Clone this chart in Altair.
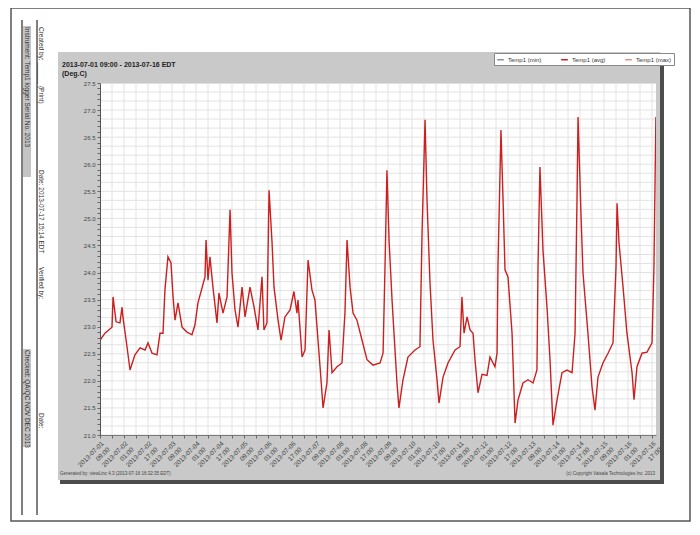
import datetime as dt
import altair as alt
import pandas as pd

# ---------------- data ----------------
# elapsed hours since 2013-07-01 09:00 and temperature (Deg.C)
hours = [0, 3.3, 8, 8.7, 10.7, 13.3, 14.7, 15.3, 18, 20, 23.3, 26.7, 30, 32, 34.7, 38, 40, 42,
         43.3, 45.3, 47.3, 48.7, 50, 52, 54.7, 58, 61.3, 63.3, 65.3, 70, 70.7, 72, 73.3, 75.3,
         78, 79.3, 82, 84.7, 86.7, 88, 90, 92, 94.7, 96.7, 100, 102.7, 105.3, 108, 109.3, 111.3,
         112.7, 114.7, 116, 118.7, 120.7, 123.3, 126.7, 129.3, 131.3, 132, 134.7, 136.7, 138.7,
         141.3, 143.3, 146.7, 148.7, 151.3, 152.7, 154.7, 158, 161.3, 163.3, 164.7, 166.7, 168.7,
         171.3, 174.7, 178, 182, 186.7, 188.7, 190, 191.3, 192.7, 194.7, 196, 198, 199.3, 202,
         205.3, 210, 213.3, 214.7, 216.7, 218, 220, 222, 224.7, 226, 228.7, 232, 236.7, 240,
         241.3, 242.7, 244.7, 246.7, 248.7, 250, 252, 254.7, 258, 260, 263.3, 264.7, 265.3,
         267.3, 268.7, 270, 272, 274.7, 276.7, 278.7, 282, 285.3, 288.7, 291.3, 292, 293.3,
         295.3, 298, 300, 302, 304.7, 308, 311.3, 314.7, 316.7, 318, 318.7, 320.7, 322, 325.3,
         328, 330, 332, 335.3, 338.7, 342, 344, 344.7, 346, 348.7, 351.3, 354.7, 356, 358,
         361.3, 364.7, 368, 369.3, 370.6]
temps = [22.75, 22.88, 22.99, 23.55, 23.09, 23.07, 23.36, 23.18, 22.63, 22.20, 22.48, 22.61,
         22.57, 22.70, 22.51, 22.48, 22.88, 22.88, 23.68, 24.29, 24.18, 23.55, 23.12, 23.44,
         22.99, 22.90, 22.85, 23.03, 23.44, 23.92, 24.60, 23.86, 24.29, 23.73, 23.07, 23.62,
         23.25, 23.55, 25.16, 23.99, 23.31, 22.99, 23.73, 23.18, 23.73, 23.36, 22.94, 23.92,
         22.94, 23.07, 25.52, 24.55, 23.73, 23.12, 22.75, 23.18, 23.31, 23.65, 23.25, 23.49,
         22.44, 22.57, 24.23, 23.68, 23.49, 22.26, 21.50, 21.96, 22.94, 22.15, 22.26, 22.33,
         23.25, 24.60, 23.73, 23.25, 23.12, 22.75, 22.39, 22.29, 22.33, 22.51, 24.10, 25.89,
         24.60, 23.49, 22.88, 21.96, 21.50, 22.02, 22.44, 22.57, 22.63, 24.73, 26.82, 25.34,
         23.81, 22.75, 22.02, 21.59, 22.07, 22.33, 22.57, 22.63, 23.55, 22.88, 23.18, 22.94,
         22.88, 22.39, 21.78, 22.12, 22.10, 22.44, 22.26, 22.51, 24.10, 26.63, 25.34, 24.05,
         23.92, 22.88, 21.22, 21.65, 21.96, 22.02, 21.96, 22.20, 24.10, 25.95, 24.42, 23.36,
         22.39, 21.18, 21.65, 22.15, 22.20, 22.15, 22.88, 25.34, 26.87, 25.03, 23.99, 22.88,
         21.89, 21.46, 22.07, 22.33, 22.51, 22.70, 24.10, 25.28, 24.55, 23.73, 22.88, 22.15,
         21.65, 22.26, 22.51, 22.53, 22.70, 24.10, 26.87]

series_labels = ["Temp1 (min)", "Temp1 (avg)", "Temp1 (max)"]
series_colors = ["#8d8fa8", "#cc1f1f", "#e58c8c"]
y_label_values = [21.0, 21.5, 22.0, 22.5, 23.0, 23.5, 24.0, 24.5, 25.0, 25.5, 26.0, 26.5, 27.0, 27.5]
title_text = "2013-07-01 09:00 - 2013-07-16 EDT"
unit_text = "(Deg.C)"
footer_left = "Generated by: viewLinc 4.3 (2013-07-16 16:32:35 EDT)"
footer_right = "(c) Copyright Vaisala Technologies Inc. 2013"
side_col1 = ["Instrument: Temp1 logger  Serial No. 2013", "Checked: QA/QC  NOV DEC 2013"]
side_col2 = ["Created by: ______ (Print)", "Date: 2013-07-17 15:14 EDT", "Verified by:", "Date:"]

start = dt.datetime(2013, 7, 1, 9, 0)
end = start + dt.timedelta(hours=370.67)


def adt(d):
    return alt.DateTime(year=d.year, month=d.month, date=d.day, hours=d.hour, minutes=d.minute)


df = pd.DataFrame({
    "time": [start + dt.timedelta(hours=h) for h in hours],
    "temp": temps,
    "series": "Temp1 (avg)",
})
x_ticks = [start + dt.timedelta(hours=8 * i) for i in range(47)]
gx = pd.DataFrame({"time": x_ticks})
gy = pd.DataFrame({"temp": [21.0 + i / 6.0 for i in range(40)]})
one = pd.DataFrame({"k": [0]})

xscale = alt.Scale(domain=[adt(start), adt(end)])
yscale = alt.Scale(domain=[21.0, 27.5], nice=False, zero=False)

xaxis = alt.Axis(
    values=[adt(t) for t in x_ticks],
    labelExpr="((datum.value - datetime(2013,6,1,9,0)) / 3600000) % 16 == 0 ? "
              "[timeFormat(datum.value, '%Y-%m-%d'), timeFormat(datum.value, '%H:%M')] : ''",
    labelAngle=-45, labelFontSize=6.5, labelColor="#444", labelOverlap=False,
    labelAlign="right", labelPadding=2, tickSize=3, tickColor="#666",
    domainColor="#777", grid=False, title=None, zindex=1,
)
ytick_values = [round(21.0 + 0.1 * i, 1) for i in range(66)]
yaxis = alt.Axis(
    values=ytick_values,
    labelExpr="abs(datum.value*2 - round(datum.value*2)) < 0.01 ? format(datum.value, '.1f') : ''",
    labelFontSize=6, labelColor="#444", labelOverlap=False, labelPadding=2,
    tickSize=3, tickColor="#666", domainColor="#555", grid=False, title=None, zindex=1,
)

X = alt.X("time:T", scale=xscale, axis=xaxis)
Y = alt.Y("temp:Q", scale=yscale, axis=yaxis)

grid_x = alt.Chart(gx).mark_rule(color="#e2e2e2", strokeWidth=1).encode(x=X)
grid_y = alt.Chart(gy).mark_rule(color="#e2e2e2", strokeWidth=1).encode(y=Y)

line = alt.Chart(df).mark_line(strokeWidth=1.4).encode(
    x=X, y=Y,
    color=alt.Color("series:N", scale=alt.Scale(domain=series_labels, range=series_colors),
                    legend=alt.Legend(orient="none", legendX=394, legendY=-30, direction="horizontal",
                                      columns=3, title=None, symbolType="stroke", symbolStrokeWidth=1.5,
                                      symbolSize=45, labelFontSize=6, labelColor="#333",
                                      fillColor="white", strokeColor="#888", padding=2,
                                      columnPadding=16, labelOffset=3)),
)


def box(x1, x2, y1, y2, **kw):
    return alt.Chart(one).mark_rect(**kw).encode(
        x=alt.value(x1), x2=alt.value(x2), y=alt.value(y1), y2=alt.value(y2))


def vrule(x, y1, y2, **kw):
    return alt.Chart(one).mark_rule(**kw).encode(x=alt.value(x), y=alt.value(y1), y2=alt.value(y2))


def label(txt, x, y, **kw):
    return alt.Chart(one).mark_text(text=txt, **kw).encode(x=alt.value(x), y=alt.value(y))


gray = "#c9c9c9"
dark = "#4d4d4d"
deco = [
    box(-89, 590, -75, 438, fillOpacity=0, stroke="#555", strokeWidth=1.5),
    vrule(-78, -63, 432, color="#555", strokeWidth=1.5),
    vrule(-63, -63, 432, color="#555", strokeWidth=1.5),
    box(-42, 560, -31, 0, color=gray),
    box(-42, 560, 352, 397, color=gray),
    box(-42, 0, 0, 352, color=gray),
    box(556, 560, 0, 352, color=gray),
    box(560, 564, -28, 401, color=dark),
    box(-40, 564, 397, 401, color=dark),
    box(-77, -69, -57, 94, color="#c4c4c4"),
    box(-77, -69, 266, 364, color="#c4c4c4"),
]
texts = [
    label(title_text, -38, -18, align="left", baseline="middle", fontSize=7, fontWeight="bold", color="#222"),
    label(unit_text, -38, -9, align="left", baseline="middle", fontSize=7, fontWeight="bold", color="#222"),
    label(footer_left, -40, 391, align="left", baseline="middle", fontSize=4.5, color="#444"),
    label(footer_right, 555, 391, align="right", baseline="middle", fontSize=4.5, color="#444"),
    label(side_col1[0], -73, -56, align="left", baseline="middle", angle=90, fontSize=6.5, color="#333"),
    label(side_col1[1], -73, 267, align="left", baseline="middle", angle=90, fontSize=6.5, color="#333"),
    label(side_col2[0], -59, -56, align="left", baseline="middle", angle=90, fontSize=6.5, color="#333"),
    label(side_col2[1], -59, 87, align="left", baseline="middle", angle=90, fontSize=6.5, color="#333"),
    label(side_col2[2], -59, 184, align="left", baseline="middle", angle=90, fontSize=6.5, color="#333"),
    label(side_col2[3], -59, 330, align="left", baseline="middle", angle=90, fontSize=6.5, color="#333"),
]

chart = alt.layer(grid_x, grid_y, line, *deco, *texts).properties(
    width=556, height=352,
    autosize=alt.AutoSizeParams(type="none"),
    padding={"left": 92, "top": 75, "right": 36, "bottom": 87},
    background="white",
).configure_view(stroke="#8a8a8a", strokeWidth=1).configure(font="Liberation Sans")

chart.save("out.html", embed_options={"renderer": "svg", "actions": False})
